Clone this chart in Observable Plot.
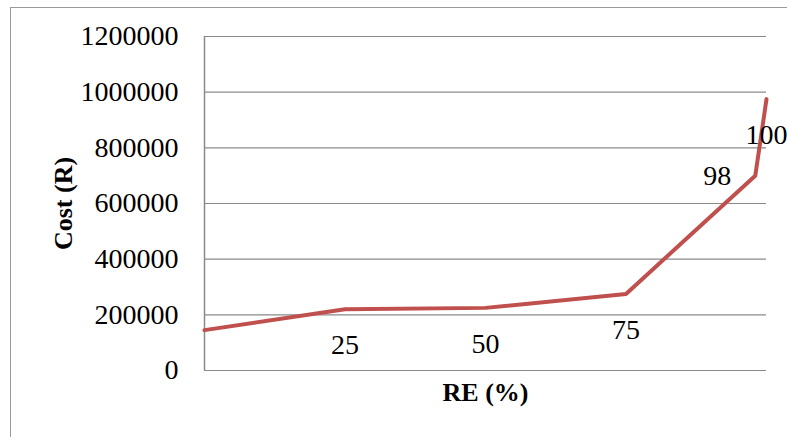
<!DOCTYPE html>
<html>
<head>
<meta charset="utf-8">
<script src="https://cdn.jsdelivr.net/npm/d3@7"></script>
<script src="https://cdn.jsdelivr.net/npm/@observablehq/plot@0.6"></script>
<style>
  body { margin: 0; background: #fff; }
  #wrap { position: relative; width: 787px; height: 437px; overflow: hidden; background: #fff; }
  #border { position: absolute; left: 10px; top: 7px; width: 820px; height: 480px;
            border-left: 1px solid #9a9a9a; border-top: 1px solid #9a9a9a; }
  #chart { position: absolute; left: 0; top: 0; }
</style>
</head>
<body>
<div id="wrap"><div id="border"></div><div id="chart"></div></div>
<script>
// Data
const re = [0, 25, 50, 75, 98, 100];                 // RE (%)
const cost = [145000, 220000, 225000, 275000, 700000, 975000]; // Cost (R)
const pointLabels = ["", "25", "50", "75", "98", "100"];
const yTicks = [0, 200000, 400000, 600000, 800000, 1000000, 1200000];
const xTitle = "RE (%)";
const yTitle = "Cost (R)";

const data = re.map((r, i) => ({ re: r, cost: cost[i], label: pointLabels[i] }));
const labelsBelow = data.filter(d => d.label !== "" && d.label !== "98");
const labelsLeft = data.filter(d => d.label === "98");

const chart = Plot.plot({
  width: 787,
  height: 437,
  marginLeft: 204,
  marginRight: 21,
  marginTop: 36,
  marginBottom: 67,
  style: { fontFamily: "'Liberation Serif', serif", fontSize: "28px", color: "#000", background: "transparent" },
  x: { domain: [0, 100], axis: null },
  y: { domain: [0, 1200000] },
  marks: [
    Plot.gridY(yTicks, { stroke: "#8a8a8a", strokeOpacity: 1, strokeWidth: 1.2 }),
    Plot.ruleX([0], { stroke: "#8a8a8a", strokeWidth: 1.5 }),
    Plot.axisY(yTicks, { tickSize: 0, tickPadding: 26, tickFormat: d3.format("d"), fontSize: 28, label: null }),
    Plot.line(data, { x: "re", y: "cost", stroke: "#C0504D", strokeWidth: 4, strokeLinejoin: "round" }),
    Plot.text(labelsBelow, { x: "re", y: "cost", text: "label", dy: 36, fontSize: 28, fill: "#000" }),
    Plot.text(labelsLeft, { x: "re", y: "cost", text: "label", dx: -38, fontSize: 28, fill: "#000" }),
    Plot.text([yTitle], { frameAnchor: "left", dx: -141, rotate: -90, textAnchor: "middle", lineAnchor: "middle", text: d => d, fontWeight: "bold", fontSize: 26, fill: "#000" }),
    Plot.text([xTitle], { frameAnchor: "bottom", dy: 22.5, textAnchor: "middle", lineAnchor: "middle", text: d => d, fontWeight: "bold", fontSize: 26, fill: "#000" })
  ]
});
document.getElementById("chart").appendChild(chart);
</script>
</body>
</html>
